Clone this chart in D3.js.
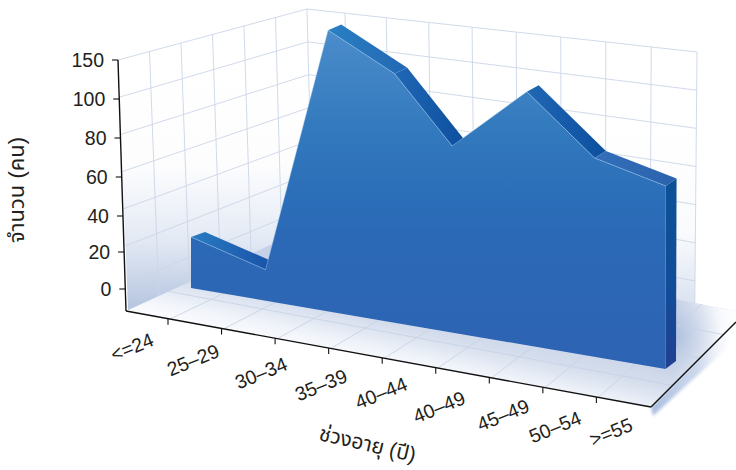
<!DOCTYPE html>
<html>
<head>
<meta charset="utf-8">
<script src="https://cdn.jsdelivr.net/npm/d3@7"></script>
<style>
  body { margin: 0; background: #fff; }
  text { font-family: "Liberation Sans", "Noto Sans Thai", "Noto Sans", sans-serif; fill: #231f20; }
</style>
</head>
<body>
<svg width="736" height="470"></svg>
<script>
const ageGroups = ['<=24', '25–29', '30–34', '35–39', '40–44', '40–49', '45–49', '50–54', '>=55'];
const yTicks = [0, 20, 40, 60, 80, 100, 150];
// the area has fewer vertices than the axis has labels
const countSteps = [0, 1.1, 2.02, 3, 3.85, 4.95, 5.95, 7];
const counts = [26, 15, 174, 124, 79, 106, 77, 68];
const xTitle = 'ช่วงอายุ (ปี)';
const yTitle = 'จำนวน (คน)';

const svg = d3.select('svg');
const defs = svg.append('defs');

// bilinear patch: a=(s0,t0) b=(s1,t0) c=(s0,t1) d=(s1,t1)
const patch = (a, b, c, d) => (s, t) => [
    (1 - t) * ((1 - s) * a[0] + s * b[0]) + t * ((1 - s) * c[0] + s * d[0]),
    (1 - t) * ((1 - s) * a[1] + s * b[1]) + t * ((1 - s) * c[1] + s * d[1])
];

const leftWall = patch([127, 283], [312, 206], [118, 60], [307, 9]);
const backWall = patch([312, 206], [695, 281], [307, 9], [697, 52]);
const floor = patch([126, 311], [651, 407], [312, 226], [745, 313]);
const areaFront = patch([191, 288], [665.5, 369], [191, 53], [666, 46]);
const areaBack = patch([205, 283], [676, 361], [205, 48], [677, 39]);

const yScale = d3.scaleLinear().domain(yTicks).range(yTicks.map((d, i) => i / 6));
const stepScale = d3.scaleLinear().domain([0, 7]).range([0, 1]);
const xScale = d3.scalePoint().domain(ageGroups).range([0.08, 0.896]);
const backX = d3.scalePow().exponent(1.06).domain([0, 9]).range([0, 1]);
const axisY = d3.scaleLinear().domain(yTicks).range([289, 252, 216, 177, 138, 99, 60]);
const axisX = d3.scaleLinear().domain([60, 311]).range([118, 126]);
const labelX = d3.scalePoint().domain(ageGroups).range([0, 8]);
const labelPosX = d3.scaleLinear().domain(d3.range(9)).range([132, 193, 261, 321, 381, 439, 503, 555, 611]);
const labelPosY = d3.scaleLinear().domain(d3.range(9)).range([347, 360, 373, 385, 393, 407, 415, 427, 432]);

const gradient = (id, x1, y1, x2, y2, stops, units) => {
    const g = defs.append('linearGradient').attr('id', id)
        .attr('gradientUnits', units || 'userSpaceOnUse')
        .attr('x1', x1).attr('y1', y1).attr('x2', x2).attr('y2', y2);
    stops.forEach(s => g.append('stop').attr('offset', s[0]).attr('stop-color', s[1])
        .attr('stop-opacity', s[2] === undefined ? 1 : s[2]));
};

gradient('leftFill', 0, 60, 0, 311, [[0, '#ffffff'], [0.42, '#fdfdfe'], [0.72, '#e3e9f4'], [1, '#b4c4df']]);
gradient('backFill', 0, 120, 0, 305, [[0, '#ffffff'], [0.6, '#fafbfd'], [1, '#dbe3f0']]);
gradient('floorFill', 392, 370, 410, 290, [[0, '#fbfcfe'], [0.2, '#f1f4fa'], [0.55, '#d3dcec'], [1, '#c5d1e6']]);
gradient('frontFill', 0, 29, 0, 369, [[0, '#4c8dcb'], [0.3, '#3279bd'], [0.52, '#2b6db8'], [0.6, '#2b69b6'], [1, '#2d63b3']]);
gradient('sideFill', 0, 180, 0, 369, [[0, '#0c5298'], [0.6, '#124c98'], [1, '#223f92']]);
gradient('facetLight', 0, 0, 1, 0, [[0, '#2a80c4'], [1, '#2267b3']], 'objectBoundingBox');
gradient('facetDark', 0, 0, 1, 0, [[0, '#2067b4'], [1, '#0c4f9e']], 'objectBoundingBox');
gradient('facetFirst', 0, 0, 1, 0, [[0, '#2a7cc2'], [1, '#174ea6']], 'objectBoundingBox');
gradient('facetEnd', 0, 0, 1, 0, [[0, '#336fb9'], [1, '#2b62ad']], 'objectBoundingBox');
gradient('underFill', 650, 0, 732, 0, [[0, '#a9bde0', 1], [0.6, '#c2d0e8', 0.8], [1, '#e4eaf5', 0]]);
gradient('rightWash', 672, 0, 736, 0, [[0, '#ffffff', 0], [0.8, '#ffffff', 0.9], [1, '#ffffff', 1]]);

const glow = defs.append('radialGradient').attr('id', 'floorShadow')
    .attr('gradientUnits', 'userSpaceOnUse').attr('cx', 672).attr('cy', 335).attr('r', 48);
glow.append('stop').attr('offset', 0).attr('stop-color', '#a9bcde').attr('stop-opacity', 0.9);
glow.append('stop').attr('offset', 1).attr('stop-color', '#c5d1e6').attr('stop-opacity', 0);
const blur = defs.append('filter').attr('id', 'soft');
blur.append('feGaussianBlur').attr('stdDeviation', 1.6);
defs.append('clipPath').attr('id', 'floorClip').append('path')
    .attr('d', 'M' + [floor(0, 0), floor(1, 0), floor(1, 1), floor(0, 1)].join('L') + 'Z');

const poly = (pts, fill) => svg.append('path').attr('d', 'M' + pts.join('L') + 'Z').attr('fill', fill);
const line = (a, b, color, w) => svg.append('line')
    .attr('x1', a[0]).attr('y1', a[1]).attr('x2', b[0]).attr('y2', b[1])
    .attr('stroke', color).attr('stroke-width', w);

const gridColor = '#cbd6e8';
const wallFloor = -0.13;

// walls
poly([backWall(0, wallFloor), backWall(1, wallFloor), backWall(1, 1), backWall(0, 1)], 'url(#backFill)');
poly([leftWall(0, wallFloor), leftWall(1, wallFloor), leftWall(1, 1), leftWall(0, 1)], 'url(#leftFill)');
yTicks.forEach(d => {
    line(leftWall(0, yScale(d)), leftWall(1, yScale(d)), gridColor, 0.9);
    line(backWall(0, yScale(d)), backWall(1, yScale(d)), gridColor, 0.9);
});
d3.range(1, 6).forEach(i => line(leftWall(i / 6, wallFloor), leftWall(i / 6, 1), gridColor, 0.9));
d3.range(0, 10).forEach(i => line(backWall(backX(i), wallFloor), backWall(backX(i), 1), gridColor, 0.9));

// floor
poly([[653, 416], [736, 340], [736, 320], [651, 407]], 'url(#underFill)').attr('filter', 'url(#soft)');
poly([floor(0, 0), floor(1, 0), floor(1, 1), floor(0, 1)], 'url(#floorFill)');
poly([[672, 300], [745, 300], [745, 420], [672, 420]], 'url(#rightWash)').attr('clip-path', 'url(#floorClip)');
poly([[620, 285], [745, 285], [745, 420], [620, 420]], 'url(#floorShadow)').attr('clip-path', 'url(#floorClip)');
[0.23, 0.52, 0.77].forEach(t => line(floor(0, t), floor(1, t), '#c5d0e2', 0.8));
ageGroups.forEach(d => line(floor(xScale(d) + 0.004, 0), floor(xScale(d) + 0.004, 1), '#c5d0e2', 0.8));

// axes
line([118, 60], [126, 311], '#111', 1.4);
line(floor(0, 0), floor(1, 0), '#111', 1.4);
line(floor(1, 0), [736, 322], '#111', 1.4);
yTicks.forEach(d => {
    const y = axisY(d), x = axisX(y);
    line([x - 6, y], [x, y], '#111', 1.1);
    svg.append('text').attr('x', x - 14).attr('y', y).attr('dy', '0.35em')
        .attr('text-anchor', 'end').style('font-size', '19.5px').text(d);
});
ageGroups.forEach(d => {
    const p = floor(xScale(d), 0);
    line(p, [p[0], p[1] + 6], '#111', 1.1);
    const i = labelX(d);
    svg.append('text')
        .attr('transform', `translate(${labelPosX(i)},${labelPosY(i)}) rotate(-22)`)
        .attr('dy', '0.35em').attr('text-anchor', 'middle').style('font-size', '19.5px').text(d);
});

svg.append('text').attr('transform', 'translate(24,190) rotate(-90)')
    .attr('text-anchor', 'middle').style('font-size', '22px').text(yTitle);
svg.append('text').attr('transform', 'translate(366,451) rotate(13)')
    .attr('text-anchor', 'middle').style('font-size', '21px').text(xTitle);

// area: extruded top facets, end face, then the front face
const front = counts.map((d, i) => areaFront(stepScale(countSteps[i]), yScale(d)));
const back = counts.map((d, i) => areaBack(stepScale(countSteps[i]), yScale(d)));
const facetFill = ['facetFirst', null, 'facetLight', 'facetDark', null, 'facetDark', 'facetEnd'];
facetFill.forEach((fill, i) => {
    if (fill) poly([front[i], back[i], back[i + 1], front[i + 1]], `url(#${fill})`);
});
const last = counts.length - 1;
poly([front[last], back[last], areaBack(1, 0), areaFront(1, 0)], 'url(#sideFill)');
poly([areaFront(0, 0), ...front, areaFront(1, 0)], 'url(#frontFill)');
svg.append('path').attr('d', 'M' + front.join('L')).attr('fill', 'none')
    .attr('stroke', '#a9cdee').attr('stroke-opacity', 0.55).attr('stroke-width', 0.8);
</script>
</body>
</html>
